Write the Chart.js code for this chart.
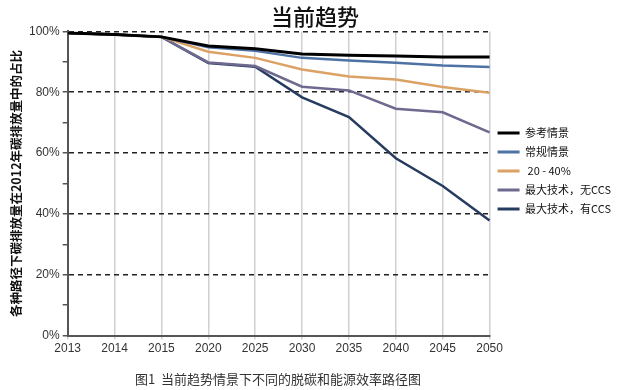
<!DOCTYPE html>
<html>
<head>
<meta charset="utf-8">
<script src="https://cdn.jsdelivr.net/npm/chart.js@4.4.0/dist/chart.umd.min.js"></script>
<style>
  body { margin: 0; background: #fff; }
  #wrap { position: relative; width: 618px; height: 390px; }
  #caption {
    position: absolute; left: 135px; top: 369px;
    font: 13px "Noto Sans CJK SC", sans-serif; color: #333; white-space: pre;
  }
</style>
</head>
<body>
<div id="wrap">
  <canvas id="trendChart" width="618" height="390"></canvas>
  <div id="caption">图1  当前趋势情景下不同的脱碳和能源效率路径图</div>
</div>
<script>
var years = ['2013', '2014', '2015', '2020', '2025', '2030', '2035', '2040', '2045', '2050'];
var reference = [99.5, 99, 98.2, 95.2, 94.3, 92.6, 92.2, 91.9, 91.6, 91.6];
var normal = [99.5, 99, 98.2, 94.8, 93.6, 91.3, 90.4, 89.7, 88.8, 88.3];
var cut2040 = [99.5, 99, 98.2, 93.3, 91.3, 87.5, 85.2, 84.2, 81.7, 79.8];
var maxNoCcs = [99.5, 99, 98.2, 89.8, 88.6, 81.8, 80.6, 74.6, 73.4, 66.8];
var maxCcs = [99.5, 99, 98.2, 89.6, 88.4, 78.3, 71.8, 58.3, 49.2, 37.8];

var ctx = document.getElementById('trendChart').getContext('2d');
var trendChart = new Chart(ctx, {
    type: 'line',
    data: {
        labels: years,
        datasets: [
            { label: '参考情景', data: reference, borderColor: '#000000', borderWidth: 3 },
            { label: '常规情景', data: normal, borderColor: '#4d72a3', borderWidth: 2.5 },
            { label: ' 20 - 40%', data: cut2040, borderColor: '#dca265', borderWidth: 2.5 },
            { label: '最大技术，无CCS', data: maxNoCcs, borderColor: '#6e6a8f', borderWidth: 2.5 },
            { label: '最大技术，有CCS', data: maxCcs, borderColor: '#263c5f', borderWidth: 2.5 }
        ]
    },
    options: {
        responsive: false,
        animation: false,
        layout: { padding: { left: 9, right: -3, top: 1, bottom: 32 } },
        elements: { point: { radius: 0 }, line: { tension: 0 } },
        scales: {
            x: {
                offset: false,
                grid: { color: '#d0d0d4', lineWidth: 1.5, tickLength: 4 },
                border: { color: '#555', width: 2 },
                ticks: { color: '#333', font: { family: 'Liberation Sans', size: 12 }, padding: 2, maxRotation: 0 }
            },
            y: {
                min: 0,
                max: 100,
                ticks: {
                    stepSize: 10,
                    color: '#333',
                    font: { family: 'Liberation Sans', size: 12 },
                    padding: 3,
                    callback: function(v) { return v % 20 === 0 ? v + '%' : ''; }
                },
                grid: {
                    color: function(c) { return c.tick && c.tick.value % 20 === 0 && c.tick.value > 0 ? '#222' : 'rgba(0,0,0,0)'; },
                    tickColor: '#555',
                    lineWidth: 1.5,
                    tickLength: 5
                },
                border: { color: '#555', width: 2, dash: [5, 4] },
                title: {
                    display: true,
                    text: '各种路径下碳排放量在2012年碳排放量中的占比',
                    color: '#111',
                    font: { family: 'Noto Sans CJK SC', size: 12.5, weight: 'bold' },
                    padding: { top: 0, bottom: 2 }
                }
            }
        },
        plugins: {
            title: {
                display: true,
                text: '当前趋势',
                color: '#111',
                font: { family: 'Noto Sans CJK SC', size: 22, weight: '500' },
                padding: { top: 2, bottom: 2 }
            },
            legend: {
                position: 'right',
                align: 'start',
                title: { display: true, text: ' ', padding: 52, font: { size: 12 } },
                labels: {
                    boxWidth: 22,
                    boxHeight: 3,
                    padding: 8,
                    color: '#111',
                    font: { family: 'Noto Sans CJK SC', size: 11 },
                    generateLabels: function(chart) {
                        var items = Chart.defaults.plugins.legend.labels.generateLabels(chart);
                        items.forEach(function(it) {
                            it.fillStyle = it.strokeStyle;
                            it.lineWidth = 0;
                        });
                        return items;
                    }
                }
            },
            tooltip: { enabled: false }
        }
    }
});
</script>
</body>
</html>
